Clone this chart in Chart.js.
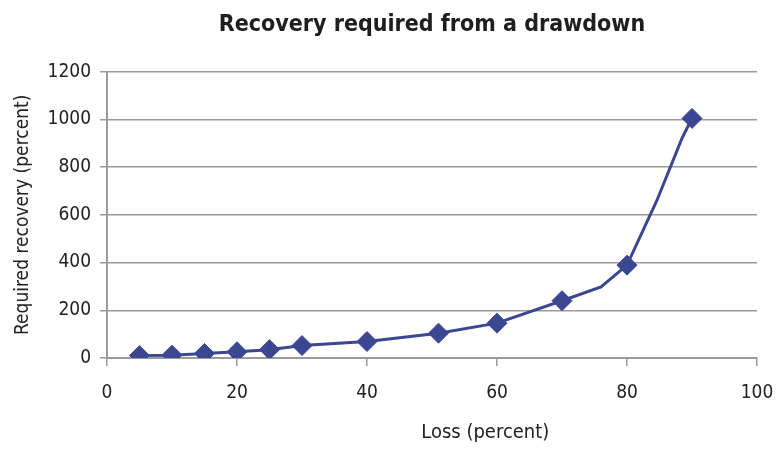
<!DOCTYPE html>
<html>
<head>
<meta charset="utf-8">
<script src="https://cdn.jsdelivr.net/npm/chart.js@4"></script>
<style>
  html, body { margin: 0; padding: 0; background: #fff; }
  #wrap { width: 780px; height: 451px; }
</style>
</head>
<body>
<div id="wrap"><canvas id="chart" width="780" height="451"></canvas></div>
<script>
// data
const lossPct = [5, 10, 15, 20, 25, 30, 40, 51, 60, 70, 76, 80, 84.6, 88.5, 90];
const recoveryPct = [10, 12, 19, 26, 35, 52, 69, 104, 146, 240, 298, 389, 660, 923, 1004];
// which points carry a diamond marker (the rest are only line bends)
const hasMarker = [1, 1, 1, 1, 1, 1, 1, 1, 1, 1, 0, 1, 0, 0, 1];
const xTicks = [0, 20, 40, 60, 80, 100];
const yTicks = [0, 200, 400, 600, 800, 1000, 1200];
const xTitle = 'Loss (percent)';

const FONT = "'Liberation Sans Narrow', 'DejaVu Sans Condensed', 'Arial Narrow', sans-serif";
const NAVY = '#3c4791';

const points = lossPct.map((x, i) => ({ x: x, y: recoveryPct[i] }));

// the x axis title sits right of centre in the original, so draw it here
const xTitlePlugin = {
    id: 'xTitleOffCentre',
    afterDraw(chart) {
        const { ctx, chartArea } = chart;
        ctx.save();
        ctx.font = '20px ' + FONT;
        ctx.fillStyle = '#222';
        ctx.textAlign = 'center';
        ctx.textBaseline = 'middle';
        ctx.fillText(xTitle, chartArea.left + (chartArea.right - chartArea.left) * 0.582, 433);
        ctx.restore();
    }
};

new Chart(document.getElementById('chart').getContext('2d'), {
    type: 'scatter',
    data: {
        datasets: [{
            label: 'Required recovery',
            data: points,
            showLine: true,
            borderColor: NAVY,
            borderWidth: 3,
            tension: 0,
            pointStyle: 'rectRot',
            pointRadius: hasMarker.map(m => m ? 10 : 0),
            pointBackgroundColor: NAVY,
            pointBorderColor: NAVY,
            pointBorderWidth: 1
        }]
    },
    plugins: [xTitlePlugin],
    options: {
        responsive: false,
        animation: false,
        layout: { padding: { left: 0, right: 23, top: 0, bottom: 0 } },
        plugins: {
            legend: { display: false },
            tooltip: { enabled: false },
            title: {
                display: true,
                fullSize: false,
                text: 'Recovery required from a drawdown',
                color: '#1e1e1e',
                font: { family: FONT, size: 23, weight: 'bold' },
                padding: { top: 11, bottom: 33 }
            }
        },
        scales: {
            x: {
                type: 'linear',
                min: 0,
                max: 100,
                afterFit: s => { s.height = 93; s.paddingLeft = 0; s.paddingRight = 0; },
                afterBuildTicks: s => { s.ticks = xTicks.map(v => ({ value: v })); },
                grid: {
                    drawOnChartArea: false,
                    drawTicks: true,
                    tickLength: 8,
                    color: '#9a9a9a',
                    lineWidth: 1.5
                },
                border: { color: '#9a9a9a', width: 2 },
                ticks: {
                    color: '#222',
                    padding: 16,
                    font: { family: FONT, size: 19 },
                    callback: v => String(v)
                },
                title: { display: false }
            },
            y: {
                type: 'linear',
                min: 0,
                max: 1200,
                afterFit: s => { s.width = 107; s.paddingTop = 0; s.paddingBottom = 0; },
                afterBuildTicks: s => { s.ticks = yTicks.map(v => ({ value: v })); },
                grid: {
                    drawTicks: true,
                    tickLength: 7,
                    color: '#9a9a9a',
                    lineWidth: 1.5
                },
                border: { color: '#9a9a9a', width: 2 },
                ticks: {
                    color: '#222',
                    padding: 9,
                    font: { family: FONT, size: 19 },
                    callback: v => String(v)
                },
                title: {
                    display: true,
                    text: 'Required recovery (percent)',
                    color: '#222',
                    font: { family: FONT, size: 19 },
                    padding: { top: 12, bottom: 0 }
                }
            }
        }
    }
});
</script>
</body>
</html>
